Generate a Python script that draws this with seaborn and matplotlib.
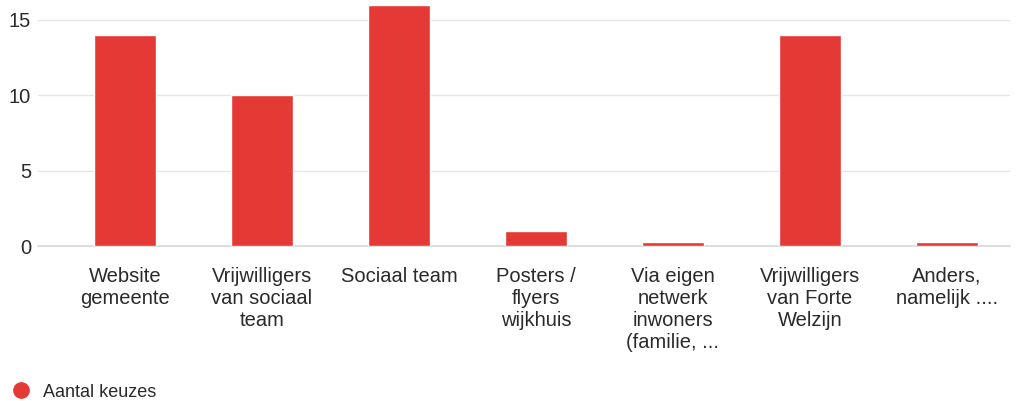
import numpy as np
import seaborn as sns
import pandas as pd
from matplotlib import pyplot as plt
from matplotlib.lines import Line2D

categories = [
    'Website\ngemeente',
    'Vrijwilligers\nvan sociaal\nteam',
    'Sociaal team',
    'Posters /\nflyers\nwijkhuis',
    'Via eigen\nnetwerk\ninwoners\n(familie, ...',
    'Vrijwilligers\nvan Forte\nWelzijn',
    'Anders,\nnamelijk ....',
]
counts = [14, 10, 16, 1, 0, 14, 0]
series_name = 'Aantal keuzes'
y_ticks = [0, 5, 10, 15]

bar_color = '#e53935'


def create_bar_chart(categories, counts):
    sns.set_theme(style="white")
    plt.rcParams['font.family'] = ['Liberation Sans', 'DejaVu Sans']

    # zero counts still get a thin stub, like the original chart
    shown = np.maximum(np.array(counts, dtype=float), 0.25)
    data = pd.DataFrame({'categorie': categories, 'aantal': shown})

    fig = plt.figure(figsize=(10.21, 4.01), dpi=100)
    ax = fig.add_axes([38 / 1021, 155 / 401, 972 / 1021, 246 / 401])

    sns.barplot(x='categorie', y='aantal', data=data, ax=ax,
                color=bar_color, width=0.45, saturation=1, zorder=3)

    ax.set_xlim(-0.635, 6.46)
    ax.set_ylim(0, 16.32)
    ax.set_yticks(y_ticks)
    ax.yaxis.grid(True, color='#e6e6e6', linewidth=1)
    ax.set_axisbelow(True)
    for side in ['top', 'right', 'left']:
        ax.spines[side].set_visible(False)
    ax.spines['bottom'].set_color('#d9d9d9')
    ax.spines['bottom'].set_zorder(1)

    ax.set_xlabel('')
    ax.set_ylabel('')
    ax.tick_params(axis='both', length=0, labelsize=14.5, colors='#2a2a2a')
    ax.tick_params(axis='x', pad=15)
    ax.tick_params(axis='y', pad=5)
    for lbl in ax.get_xticklabels():
        lbl.set_linespacing(1.2)
        lbl.set_ha('center')
        lbl.set_va('top')

    handle = Line2D([], [], marker='o', linestyle='', color=bar_color, markersize=11)
    fig.legend([handle], [series_name], loc='lower left',
               bbox_to_anchor=(-0.013, -0.04), frameon=False, fontsize=13,
               handletextpad=0.2, labelcolor='#2a2a2a')

    fig.savefig('out.png', dpi=100)
    return fig


create_bar_chart(categories, counts)
